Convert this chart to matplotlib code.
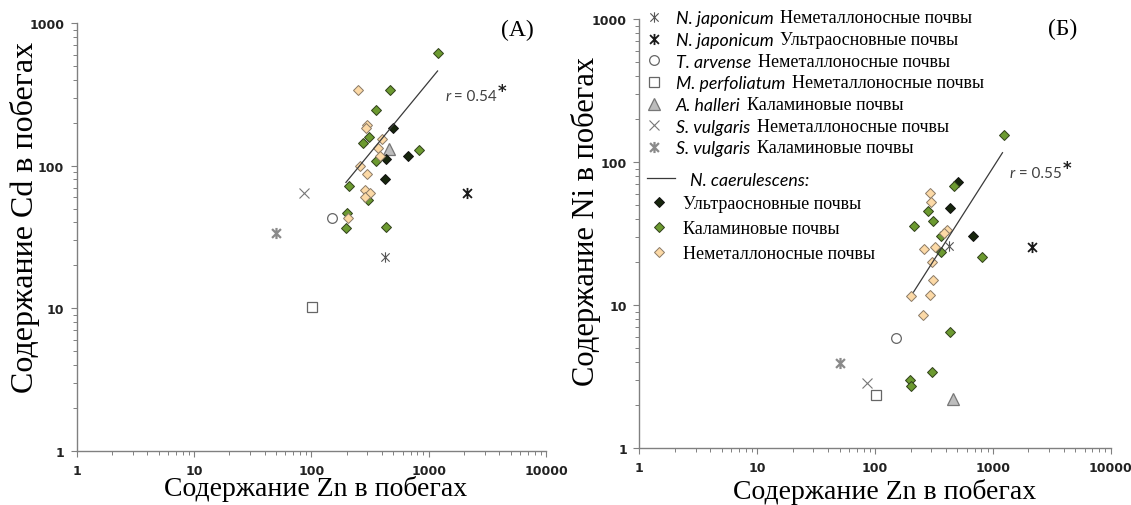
import numpy as np
import matplotlib
matplotlib.use("Agg")
import matplotlib.pyplot as plt
from matplotlib.path import Path
from matplotlib.ticker import LogLocator, FixedLocator, FixedFormatter, NullFormatter

plt.rcParams['font.family'] = ['DejaVu Sans']

# ---------- data (mg/kg, log scales) ----------
# other species: same plants in both panels, so one Zn array
other_names = ["N. japonicum", "N. japonicum", "T. arvense", "M. perfoliatum",
               "A. halleri", "S. vulgaris", "S. vulgaris"]
other_soils = ["Неметаллоносные почвы", "Ультраосновные почвы", "Неметаллоносные почвы",
               "Неметаллоносные почвы", "Каламиновые почвы", "Неметаллоносные почвы",
               "Каламиновые почвы"]
other_zn = [428, 2130, 150, 102, 460, 86, 50]
other_cd = [22.9, 64, 43, 10.3, 131, 64, 33.6]
other_ni = [26, 25.7, 5.94, 2.35, 2.2, 2.88, 3.97]

# N. caerulescens, panel A (Zn vs Cd)
a_ultra_zn = [492, 665, 435, 427]
a_ultra_cd = [185, 116, 111, 81]
a_kalam_zn = [1211, 470, 353, 310, 273, 819, 359, 211, 301, 201, 199, 429]
a_kalam_cd = [615, 340, 245, 160, 143, 129, 108, 72, 57, 46.5, 36.5, 37]
a_nonmet_zn = [251, 300, 292, 400, 370, 387, 260, 296, 288, 316, 288, 206]
a_nonmet_cd = [340, 194, 183, 154, 134, 116, 100, 87, 68, 64, 60, 43]

# N. caerulescens, panel B (Zn vs Ni)
b_ultra_zn = [510, 431, 676]
b_ultra_ni = [73, 47.5, 30.5]
b_kalam_zn = [1233, 469, 282, 311, 214, 361, 361, 811, 431, 306, 199, 203]
b_kalam_ni = [154, 67.6, 45.2, 38.5, 35.9, 30.5, 23.6, 21.9, 6.55, 3.44, 3.0, 2.73]
b_nonmet_zn = [294, 301, 406, 385, 262, 321, 305, 311, 203, 291, 257]
b_nonmet_ni = [60.7, 52.3, 33.6, 31.9, 24.6, 25.7, 19.9, 14.9, 11.6, 11.7, 8.56]

# power-law trend lines for N. caerulescens: log y = a + b log x
fit_a = {"A": -0.412, "B": -1.909}
fit_b = {"A": 1.00, "B": 1.29}
fit_range = {"A": (197, 1190), "B": (212, 1206)}
r_text = {"A": "0.54", "B": "0.55"}

caer_soils = ["Ультраосновные почвы", "Каламиновые почвы", "Неметаллоносные почвы"]
caer_colors = ["#17260d", "#6c9a30", "#fcd9a6"]
caer_edges = ["#111111", "#2f3f1a", "#8a7a66"]

# ---------- marker shapes ----------
star = Path([(0, -1), (0, 1), (-0.8, -0.8), (0.8, 0.8), (-0.8, 0.8), (0.8, -0.8)],
            [Path.MOVETO, Path.LINETO] * 3)
other_style = [
    dict(marker=star, ms=7.5, mew=0.8, color="#555555", mfc="none"),
    dict(marker=star, ms=8.0, mew=1.3, color="#1a1a1a", mfc="none"),
    dict(marker="o", ms=7.0, mew=0.9, color="#666666", mfc="white"),
    dict(marker="s", ms=6.5, mew=0.9, color="#666666", mfc="white"),
    dict(marker="^", ms=8.0, mew=0.9, color="#777777", mfc="#bdbdbd"),
    dict(marker="x", ms=7.0, mew=0.8, color="#777777"),
    dict(marker=star, ms=8.0, mew=1.6, color="#8a8a8a", mfc="none"),
]

serif = "Liberation Serif"

fig = plt.figure(figsize=(11.31, 5.06), dpi=100)
axA = fig.add_axes([0.0678, 0.1067, 0.415, 0.8459])
axB = fig.add_axes([0.5653, 0.1120, 0.4168, 0.8484])


def style_axis(ax):
    ax.set_xscale("log")
    ax.set_yscale("log")
    ax.set_xlim(1, 10000)
    ax.set_ylim(1, 1000)
    for s in ("top", "right"):
        ax.spines[s].set_visible(False)
    for s in ("left", "bottom"):
        ax.spines[s].set_color("#808080")
        ax.spines[s].set_linewidth(1.0)
    ax.xaxis.set_major_locator(FixedLocator([1, 10, 100, 1000, 10000]))
    ax.xaxis.set_major_formatter(FixedFormatter(["1", "10", "100", "1000", "10000"]))
    ax.yaxis.set_major_locator(FixedLocator([1, 10, 100, 1000]))
    ax.yaxis.set_major_formatter(FixedFormatter(["1", "10", "100", "1000"]))
    ax.xaxis.set_minor_locator(LogLocator(base=10, subs=np.arange(2, 10)))
    ax.yaxis.set_minor_locator(LogLocator(base=10, subs=np.arange(2, 10)))
    ax.xaxis.set_minor_formatter(NullFormatter())
    ax.yaxis.set_minor_formatter(NullFormatter())
    ax.tick_params(which="major", direction="out", length=4, width=0.8,
                   color="#808080", labelsize=9, labelcolor="#222222", pad=5)
    ax.tick_params(which="minor", direction="out", length=3, width=0.7, color="#808080")
    for lab in ax.get_xticklabels() + ax.get_yticklabels():
        lab.set_fontweight("bold")


def draw_panel(ax, key, other_y, ultra, kalam, nonmet):
    style_axis(ax)
    lo, hi = fit_range[key]
    xs = np.logspace(np.log10(lo), np.log10(hi), 20)
    line, = ax.plot(xs, 10 ** (fit_a[key] + fit_b[key] * np.log10(xs)),
                    color="#3a3a3a", lw=0.9, zorder=4)
    others = []
    for i in range(len(other_zn)):
        h, = ax.plot([other_zn[i]], [other_y[i]], ls="none", zorder=3, **other_style[i])
        others.append(h)
    caer = []
    for (zn, y), fc, ec in zip([ultra, kalam, nonmet], caer_colors, caer_edges):
        h, = ax.plot(zn, y, ls="none", marker="D", ms=5.4, mfc=fc, mec=ec, mew=0.7, zorder=3)
        caer.append(h)
    return line, others, caer


draw_panel(axA, "A", other_cd, (a_ultra_zn, a_ultra_cd), (a_kalam_zn, a_kalam_cd),
           (a_nonmet_zn, a_nonmet_cd))
lineB, othersB, caerB = draw_panel(axB, "B", other_ni, (b_ultra_zn, b_ultra_ni),
                                   (b_kalam_zn, b_kalam_ni), (b_nonmet_zn, b_nonmet_ni))

# axis titles
axA.set_ylabel("Содержание Cd в побегах", family=serif, fontsize=23)
axB.set_ylabel("Содержание Ni в побегах", family=serif, fontsize=22)
axA.yaxis.set_label_coords(-0.110, 0.549)
axB.yaxis.set_label_coords(-0.113, 0.53)
for ax, xc, yc in [(axA, 0.508, -0.0865), (axB, 0.521, -0.0995)]:
    ax.set_xlabel("Содержание Zn в побегах", family=serif, fontsize=20)
    ax.xaxis.set_label_coords(xc, yc)
    ax.xaxis.label.set_va("center")
    ax.yaxis.label.set_va("center")

axA.text(0.938, 0.985, "(A)", transform=axA.transAxes, family=serif, fontsize=17,
         ha="center", va="center")
axB.text(0.897, 0.977, "(Б)", transform=axB.transAxes, family=serif, fontsize=17,
         ha="center", va="center")

# r = ... labels
for ax, key, xf, yf in [(axA, "A", 0.785, 0.821), (axB, "B", 0.786, 0.632)]:
    t1 = ax.text(xf, yf, "r", transform=ax.transAxes, fontsize=11, color="#404040",
                 va="baseline", family="Lato", style="italic")
    t2 = ax.annotate(" = " + r_text[key], xy=(1, 0), xycoords=t1, fontsize=11,
                     color="#404040", family="Lato", va="bottom", zorder=10)
    ax.annotate("*", xy=(1, 0.85), xycoords=t2, xytext=(0.5, 0), textcoords="offset points",
                fontsize=12, fontweight="bold", color="#202020", va="center", zorder=10)

# legend 1: other species (italic name + serif soil type)
leg1 = axB.legend(othersB, other_names, loc="upper left", bbox_to_anchor=(0.570, 0.978),
                  bbox_transform=fig.transFigure, frameon=False, handlelength=1.0,
                  handletextpad=0.75, labelspacing=0.32, borderpad=0, borderaxespad=0,
                  prop=dict(family="Lato", style="italic", size=12.8))
axB.add_artist(leg1)
for txt, soil in zip(leg1.get_texts(), other_soils):
    axB.annotate(soil, xy=(1, 0), xycoords=txt, xytext=(5, 0), textcoords="offset points",
                 family=serif, fontsize=13, va="bottom", zorder=10)

# legend 2: trend line of N. caerulescens
leg2 = axB.legend([lineB], ["N. caerulescens:"], loc="upper left",
                  bbox_to_anchor=(0.572, 0.659), bbox_transform=fig.transFigure,
                  frameon=False, handlelength=1.6, handletextpad=0.8,
                  borderpad=0, borderaxespad=0,
                  prop=dict(family="Lato", style="italic", size=12.8))
axB.add_artist(leg2)

# legend 3: N. caerulescens by soil type
leg3 = axB.legend(caerB, caer_soils, loc="upper left",
                  bbox_to_anchor=(0.578, 0.612), bbox_transform=fig.transFigure,
                  frameon=False, handlelength=0.6, handletextpad=1.0, labelspacing=0.44,
                  borderpad=0, borderaxespad=0, prop=dict(family=serif, size=13))

fig.savefig("out.png", dpi=100)
